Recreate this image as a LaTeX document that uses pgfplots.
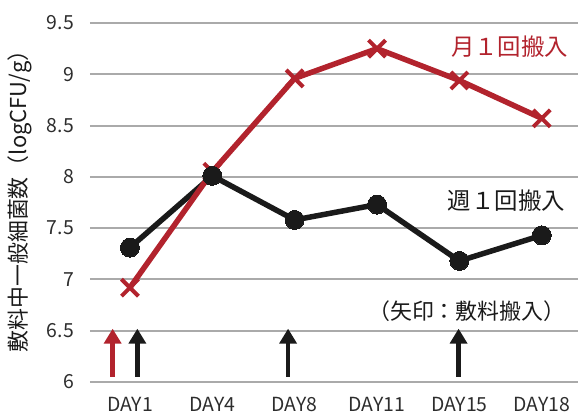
\documentclass[border=0pt]{standalone}
\usepackage{fontspec}
\setmainfont{Noto Sans CJK JP}
\usepackage{pgfplots}
\pgfplotsset{compat=1.18}
\usetikzlibrary{arrows.meta}
\definecolor{myred}{RGB}{178,35,45}
\definecolor{myblack}{RGB}{26,26,26}
\definecolor{gridc}{RGB}{170,170,170}
\definecolor{ticktext}{RGB}{45,45,45}
\begin{document}
\begin{tikzpicture}
\useasboundingbox (-90bp,-32bp) rectangle (488bp,382bp);
\begin{axis}[
  scale only axis, width=488bp, height=359bp,
  xmin=-0.485, xmax=5.44, ymin=6, ymax=9.5,
  clip=false,
  axis line style={draw=none},
  ytick={6,6.5,7,7.5,8,8.5,9,9.5},
  xtick={0,1,2,3,4,5},
  xticklabels={DAY1,DAY4,DAY8,DAY11,DAY15,DAY18},
  ymajorgrids, grid style={gridc, line width=2bp},
  major tick length=0pt,
  /pgf/number format/assume math mode=true,
  yticklabel style={font=\fontsize{19.5}{19.5}\selectfont, text=ticktext, inner sep=0pt, xshift=-16bp},
  xticklabel style={font=\fontsize{19.5}{19.5}\selectfont, text=ticktext, inner sep=0pt, yshift=-15bp},
]
\addplot[myblack, line width=5.5bp, mark=none]
  coordinates {(0,7.31) (1,8.01) (2,7.58) (3,7.73) (4,7.18) (5,7.43)};
\addplot[myred, line width=5.5bp, mark=x, mark size=12bp, mark options={line width=4bp}]
  coordinates {(0,6.92) (1,8.05) (2,8.96) (3,9.25) (4,8.94) (5,8.57)};
\addplot[only marks, mark=*, mark size=9.5bp, mark options={fill=myblack, draw=myblack, line width=0pt}]
  coordinates {(0,7.31) (1,8.01) (2,7.58) (3,7.73) (4,7.18) (5,7.43)};
\addplot[myred, line width=4.5bp, mark=none, -{Triangle[width=17bp,length=15bp]}, quiver={u=0,v=0.47}]
  coordinates {(-0.21,6.05)};
\addplot[myblack, line width=4.5bp, mark=none, -{Triangle[width=17bp,length=15bp]}, quiver={u=0,v=0.47}]
  coordinates {(0.09,6.05) (1.92,6.05) (3.99,6.05)};
\node[text=myred, font=\fontsize{23.5}{23.5}\selectfont] at (axis cs:4.61,9.27) {月１回搬入};
\node[text=myblack, font=\fontsize{23.5}{23.5}\selectfont] at (axis cs:4.57,7.765) {週１回搬入};
\node[text=myblack, font=\fontsize{22}{22}\selectfont] at (axis cs:4.09,6.69) {（矢印：敷料搬入）};
\node[rotate=90, text=myblack, font=\fontsize{22}{22}\selectfont] at (rel axis cs:-0.143,0.518) {敷料中一般細菌数（logCFU/g）};
\end{axis}
\end{tikzpicture}
\end{document}
